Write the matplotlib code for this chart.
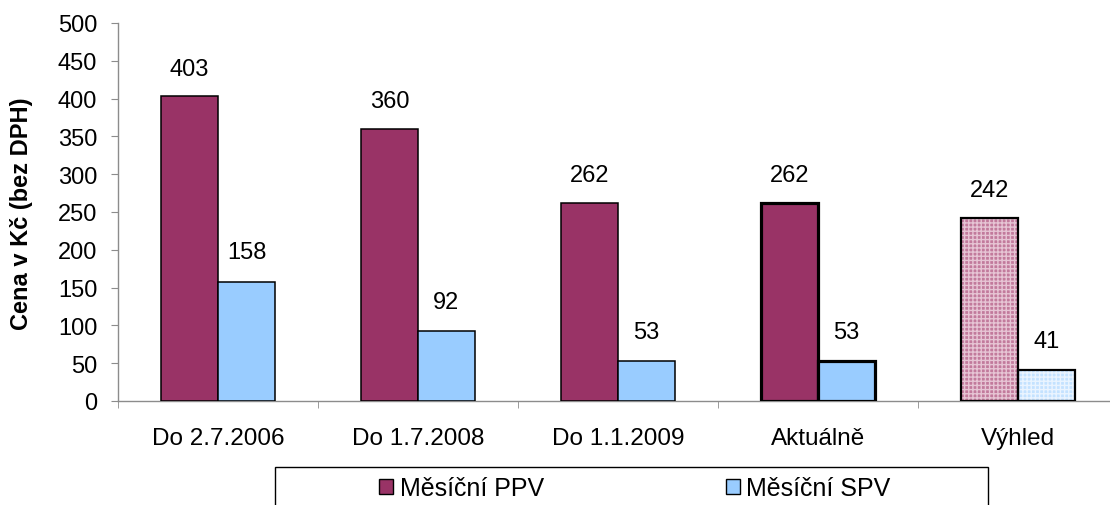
import matplotlib.pyplot as plt
from matplotlib.patches import Rectangle
import numpy as np

plt.rcParams['font.family'] = ['Liberation Sans', 'DejaVu Sans']

# data
categories = ['Do 2.7.2006', 'Do 1.7.2008', 'Do 1.1.2009', 'Aktuálně', 'Výhled']
ppv = [403, 360, 262, 262, 242]
spv = [158, 92, 53, 53, 41]
series_names = ['Měsíční PPV', 'Měsíční SPV']
ylabel = 'Cena v Kč (bez DPH)'

ppv_color = '#993366'
spv_color = '#99ccff'
axis_gray = '#8c8c8c'

fig = plt.figure(figsize=(11.1, 5.06), dpi=100)
ax = fig.add_axes([118 / 1110, 1 - 402 / 506, 1000 / 1110, 378 / 506])

x = np.arange(len(categories))
w = 0.285

# plain bars for the first three groups
for i in range(3):
    ax.bar(x[i] - w, ppv[i], w, align='edge', color=ppv_color, edgecolor='black', linewidth=1.1)
    ax.bar(x[i], spv[i], w, align='edge', color=spv_color, edgecolor='black', linewidth=1.1)

# current values: heavier outline
ax.bar(x[3] - w, ppv[3], w, align='edge', color=ppv_color, edgecolor='black', linewidth=2.3)
ax.bar(x[3], spv[3], w, align='edge', color=spv_color, edgecolor='black', linewidth=2.3)

# outlook: fine dotted pattern
ax.bar(x[4] - w, ppv[4], w, align='edge', color='#c27a9c', edgecolor='#e6c4d4', hatch='++++', linewidth=0)
ax.bar(x[4], spv[4], w, align='edge', color='#c4e2ff', edgecolor='#eaf4ff', hatch='++++', linewidth=0)
ax.bar(x[4] - w, ppv[4], w, align='edge', fill=False, edgecolor='black', linewidth=1.6)
ax.bar(x[4], spv[4], w, align='edge', fill=False, edgecolor='black', linewidth=1.6)

# value labels
for i in range(len(categories)):
    ax.annotate(str(ppv[i]), (x[i] - w / 2, ppv[i]), xytext=(0, 20), textcoords='offset points',
                ha='center', va='center', fontsize=17)
    ax.annotate(str(spv[i]), (x[i] + w / 2, spv[i]), xytext=(0, 21), textcoords='offset points',
                ha='center', va='center', fontsize=17)

ax.set_xlim(-0.5, len(categories) - 0.5)
ax.set_ylim(0, 500)
ax.set_yticks(np.arange(0, 501, 50))
ax.set_xticks(x)
ax.set_xticklabels(categories, fontsize=17.5)
ax.set_xticks(np.arange(-0.5, len(categories), 1.0), minor=True)
ax.tick_params(axis='x', which='major', length=0, pad=19)
ax.tick_params(axis='x', which='minor', length=5, color=axis_gray, direction='out')
ax.tick_params(axis='y', length=5, color=axis_gray, direction='out', pad=10, labelsize=17)

for s in ['top', 'right']:
    ax.spines[s].set_visible(False)
for s in ['left', 'bottom']:
    ax.spines[s].set_color(axis_gray)
    ax.spines[s].set_linewidth(1.0)
ax.spines['bottom'].set_zorder(0.5)

fig.text(22 / 1110, 1 - 214 / 506, ylabel, rotation=90, ha='center', va='center',
         fontsize=17, fontweight='bold')

# legend box (cut off at the bottom edge like the original)
fig.patches.append(Rectangle((275 / 1110, -0.05), 713 / 1110, 0.05 + 38 / 506,
                             transform=fig.transFigure, fill=False, edgecolor='black',
                             linewidth=1.0))
handles = [Rectangle((0, 0), 1, 1, facecolor=ppv_color, edgecolor='black', linewidth=1.0),
           Rectangle((0, 0), 1, 1, facecolor=spv_color, edgecolor='black', linewidth=1.0)]
fig.legend(handles, series_names, loc='center', bbox_to_anchor=(635 / 1110, 1 - 489 / 506),
           ncol=2, frameon=False, fontsize=18, handlelength=0.56, handleheight=0.56,
           handletextpad=0.25, columnspacing=7.3, borderpad=0)

fig.savefig('out.png', dpi=100)
